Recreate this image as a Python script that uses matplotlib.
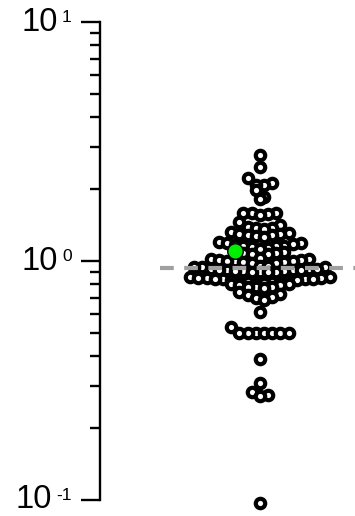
import numpy as np
import matplotlib
matplotlib.use("Agg")
import matplotlib.pyplot as plt

# values (fold change, log axis), high to low
values = [2.78, 2.47,
          2.22, 2.12, 2.08, 2.08, 1.98, 1.85, 1.82,
          1.59, 1.59, 1.59, 1.58, 1.56,
          1.46,
          1.41, 1.39, 1.38, 1.37, 1.36,
          1.32, 1.31, 1.30, 1.30, 1.29, 1.28, 1.27, 1.26,
          1.20, 1.19, 1.19, 1.18, 1.17, 1.16, 1.15, 1.15, 1.14, 1.13, 1.12,
          1.09, 1.08, 1.08, 1.07, 1.07,
          1.03, 1.02, 1.02, 1.01, 1.01, 1.00, 1.00, 1.00, 0.99, 0.99, 0.98, 0.98,
          0.95, 0.95, 0.94, 0.94, 0.94, 0.93, 0.93, 0.93, 0.92, 0.92,
          0.92, 0.92, 0.91, 0.91, 0.91, 0.90, 0.90, 0.90, 0.90,
          0.86, 0.86, 0.85, 0.85, 0.85, 0.84, 0.84, 0.84,
          0.84, 0.83, 0.83, 0.83, 0.82, 0.82, 0.82, 0.82,
          0.81, 0.81, 0.80, 0.80, 0.79, 0.79, 0.78, 0.78, 0.78, 0.77,
          0.74, 0.73, 0.72, 0.71, 0.70, 0.69,
          0.61,
          0.53, 0.50, 0.50, 0.50, 0.50, 0.50, 0.50, 0.50,
          0.39,
          0.31, 0.283, 0.275, 0.273,
          0.097]
highlight = 1.10          # the green sample
ref_line = 0.935          # dashed grey line
decades = [0.1, 1, 10]
exponents = ["-1", "0", "1"]

fig = plt.figure(figsize=(3.55, 5.16), dpi=100)
ax = fig.add_axes([100 / 355, 16 / 516, 255 / 355, 478 / 516])
ax.set_yscale("log")
ax.set_ylim(0.1, 10)
ax.set_xlim(0, 1)
center = 0.627


def binned_offsets(vals, row_h, step):
    """ Prism-like scatter: group values into rows (in pixels) and spread
        each row sideways from the centre, right side first.
    """
    ypx = ax.transData.transform(np.column_stack([np.full(len(vals), center), vals]))[:, 1]
    order = np.argsort(-ypx)
    rows = []
    for i in order:
        if rows and ypx[rows[-1][0]] - ypx[i] < row_h:
            rows[-1].append(i)
        else:
            rows.append([i])
    xs = np.zeros(len(vals))
    for r in rows:
        n = len(r)
        slots = [(k - (n - 1) / 2) * step for k in range(n)]
        slots.sort(key=lambda c: (round(abs(c), 3), -c))
        r_sorted = sorted(r, key=lambda i: ypx[i])
        for i, c in zip(r_sorted, slots):
            xs[i] = c
    return xs, ypx


allvals = values + [highlight]
xoff, ypx = binned_offsets(allvals, 7.5, 8.2)
cx = ax.transData.transform((center, 1))[0]
pts = ax.transData.inverted().transform(np.column_stack([cx + xoff, ypx]))

ax.scatter(pts[:-1, 0], pts[:-1, 1], s=46, facecolor="white", edgecolor="black",
           linewidths=3.0, zorder=3, clip_on=False)
ax.scatter(pts[-1, 0], pts[-1, 1], s=125, facecolor="#00ee00", edgecolor="black",
           linewidths=1.0, zorder=4, clip_on=False)

ax.plot([0.235, 1.0], [ref_line, ref_line], color="#a0a0a0", lw=3, dashes=(3.3, 2.5),
        zorder=5, clip_on=False, solid_capstyle="butt")

for s in ["top", "right", "bottom"]:
    ax.spines[s].set_visible(False)
ax.spines["left"].set_linewidth(1.7)
ax.set_xticks([])
ax.set_yticks(decades)
ax.set_yticklabels([])
ax.tick_params(axis="y", which="major", length=13.5, width=1.7)
ax.tick_params(axis="y", which="minor", length=7, width=1.7, labelleft=False)

# tick labels drawn as "10" with a small raised exponent
renderer = fig.canvas.get_renderer()
for val, ex in zip(decades, exponents):
    sup = ax.annotate(ex, xy=(0, val), xycoords=("axes fraction", "data"),
                      xytext=(-20.5, 3.2), textcoords="offset points",
                      ha="right", va="center", fontsize=12.5, family="Liberation Sans")
    w = sup.get_window_extent(renderer).width * 72 / fig.dpi
    ax.annotate("10", xy=(0, val), xycoords=("axes fraction", "data"),
                xytext=(-20.5 - w - 3, 0), textcoords="offset points",
                ha="right", va="center", fontsize=23.5, family="Liberation Sans")

fig.savefig("out.png", dpi=100)
